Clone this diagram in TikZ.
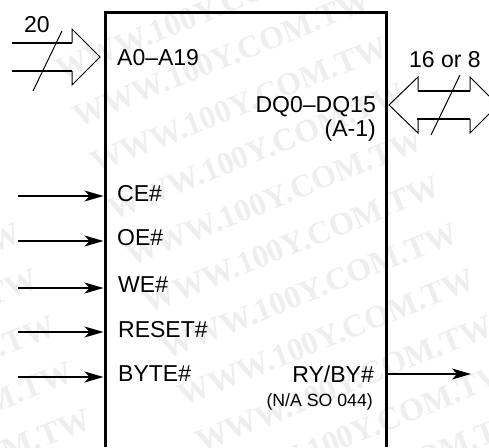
\documentclass[tikz,border=0pt]{standalone}
\usepackage{fontspec}
\setmainfont{Liberation Sans}
\newfontfamily\wmfont{Liberation Serif}
\usetikzlibrary{arrows.meta}
\definecolor{wm}{gray}{0.935}
\tikzset{
  pin/.style={line width=1.5pt,-{Stealth[length=19pt,width=11pt,inset=5pt]}},
  busline/.style={line width=1.5pt},
  busoutline/.style={line width=1pt,line join=miter},
  slash/.style={line width=1pt},
  lbl/.style={inner sep=0pt,font=\fontsize{23pt}{26pt}\selectfont},
  lblsmall/.style={inner sep=0pt,font=\fontsize{17.7pt}{20pt}\selectfont},
  chip/.style={line width=3pt,line cap=butt},
  wmark/.style={inner sep=0pt,text=wm,rotate=22,font=\wmfont\bfseries\fontsize{32pt}{34pt}\selectfont}
}
\begin{document}
\begin{tikzpicture}[x=1pt,y=-1pt]
\useasboundingbox (0,0) rectangle (489,447);
\clip (0,0) rectangle (489,447);
\foreach \k in {-4,...,6}{
  \node[wmark] (wc\k) at ({274+17.5*\k},{198+46.5*\k}) {WWW.100Y.COM.TW};
}
\foreach \k in {2,...,7}{
  \node[wmark] (wl\k) at ({274-437+17.5*\k},{198+46.5*\k}) {WWW.100Y.COM.TW};
}
\coordinate (tl) at (105,12);
\coordinate (tr) at (386,12);
\coordinate (bl) at (105,447);
\coordinate (br) at (386,447);
\draw[chip] (bl) -- (tl) -- (tr) -- (br);
\node[lbl,anchor=base west] (addr) at (117,65) {A0–A19};
\node[lbl,anchor=base east] (dq) at (376,112) {DQ0–DQ15};
\node[lbl,anchor=base east] (am) at (376,136) {(A-1)};
\node[lbl,anchor=base west] (ce) at (117,201) {CE\#};
\node[lbl,anchor=base west] (oe) at (117,245) {OE\#};
\node[lbl,anchor=base west] (we) at (118,292) {WE\#};
\node[lbl,anchor=base west] (rs) at (118,337) {RESET\#};
\node[lbl,anchor=base west] (by) at (118,381) {BYTE\#};
\node[lbl,anchor=base east] (ry) at (374,382) {RY/BY\#};
\node[lblsmall,anchor=base east] (na) at (373,406) {(N/A SO 044)};
\node[lbl,anchor=base west] (n20) at (24,32) {20};
\node[lbl,anchor=base west] (n16) at (409,67) {16 or 8};
\foreach \yy/\nm in {196/a,241/b,288/c,332/d,377/e}{
  \coordinate (s\nm) at (18,\yy);
  \coordinate (t\nm) at (103.5,\yy);
  \draw[pin] (s\nm) -- (t\nm);
}
\coordinate (rs0) at (386,374);
\coordinate (rs1) at (471,374);
\draw[pin] (rs0) -- (rs1);
\coordinate (a1) at (12,43);
\coordinate (a2) at (12,71);
\draw[busline] (a1) -- (72,43);
\draw[busline] (a2) -- (72,71);
\draw[busoutline] (72,43) -- (72,29) -- (100,57) -- (72,85) -- (72,71);
\draw[slash] (62,31) -- (33,91);
\draw[busoutline] (418,91) -- (418,77) -- (389,105) -- (418,133) -- (418,119);
\draw[busoutline] (470,91) -- (470,77) -- (498,105) -- (470,133) -- (470,119);
\draw[busline] (418,91) -- (470,91);
\draw[busline] (417,119) -- (470,119);
\draw[slash] (460,75) -- (431,135);
\end{tikzpicture}
\end{document}
